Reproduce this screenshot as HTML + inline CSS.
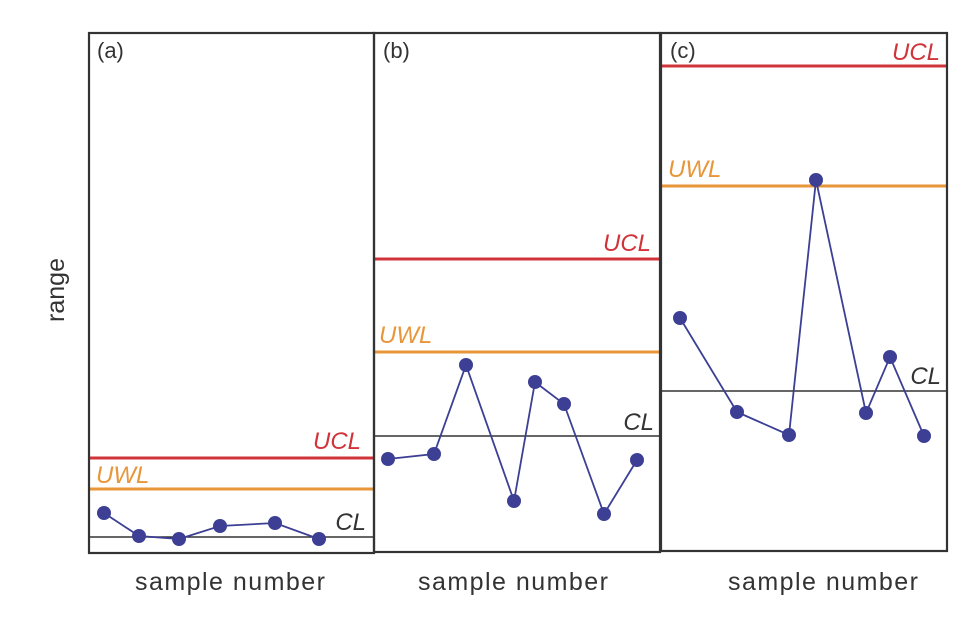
<!DOCTYPE html>
<html><head><meta charset="utf-8"><style>body{margin:0;background:#fff}svg{display:block}</style></head><body>
<svg width="974" height="619" viewBox="0 0 974 619" xmlns="http://www.w3.org/2000/svg" font-family="Liberation Sans, sans-serif">
<g fill="none" stroke-width="3">
<line x1="89" y1="458" x2="374" y2="458" stroke="#d0343a"/>
<line x1="89" y1="489" x2="374" y2="489" stroke="#e8963a"/>
<line x1="374" y1="259" x2="660" y2="259" stroke="#d0343a"/>
<line x1="374" y1="352" x2="660" y2="352" stroke="#e8963a"/>
<line x1="661" y1="66" x2="947" y2="66" stroke="#d0343a"/>
<line x1="661" y1="186" x2="947" y2="186" stroke="#e8963a"/>
</g>
<g stroke="#333" stroke-width="1.6" fill="none">
<line x1="89" y1="537" x2="374" y2="537"/>
<line x1="374" y1="436" x2="660" y2="436"/>
<line x1="661" y1="391" x2="947" y2="391"/>
</g>
<g stroke="#333" stroke-width="2.2" fill="none">
<rect x="89" y="33" width="285" height="520"/>
<rect x="374" y="33" width="286" height="519"/>
<rect x="661" y="33" width="286" height="518"/>
</g>
<g stroke="#3c3f94" stroke-width="1.8" fill="none">
<polyline points="104,513 139,536 179,539 220,526 275,523 319,539"/>
<polyline points="388,459 434,454 466,365 514,501 535,382 564,404 604,514 637,460"/>
<polyline points="680,318 737,412 789,435 816,180 866,413 890,357 924,436"/>
</g>
<g fill="#3c3f94">
<circle cx="104" cy="513" r="7"/><circle cx="139" cy="536" r="7"/><circle cx="179" cy="539" r="7"/><circle cx="220" cy="526" r="7"/><circle cx="275" cy="523" r="7"/><circle cx="319" cy="539" r="7"/>
<circle cx="388" cy="459" r="7"/><circle cx="434" cy="454" r="7"/><circle cx="466" cy="365" r="7"/><circle cx="514" cy="501" r="7"/><circle cx="535" cy="382" r="7"/><circle cx="564" cy="404" r="7"/><circle cx="604" cy="514" r="7"/><circle cx="637" cy="460" r="7"/>
<circle cx="680" cy="318" r="7"/><circle cx="737" cy="412" r="7"/><circle cx="789" cy="435" r="7"/><circle cx="816" cy="180" r="7"/><circle cx="866" cy="413" r="7"/><circle cx="890" cy="357" r="7"/><circle cx="924" cy="436" r="7"/>
</g>
<g font-size="24" font-style="italic">
<text x="361" y="449" text-anchor="end" fill="#d0343a">UCL</text>
<text x="96" y="483" fill="#e8963a">UWL</text>
<text x="366" y="530" text-anchor="end" fill="#333">CL</text>
<text x="651" y="251" text-anchor="end" fill="#d0343a">UCL</text>
<text x="379" y="343" fill="#e8963a">UWL</text>
<text x="654" y="430" text-anchor="end" fill="#333">CL</text>
<text x="940" y="60" text-anchor="end" fill="#d0343a">UCL</text>
<text x="668" y="177" fill="#e8963a">UWL</text>
<text x="941" y="384" text-anchor="end" fill="#333">CL</text>
</g>
<g font-size="22" fill="#333">
<text x="97" y="58">(a)</text>
<text x="383" y="58">(b)</text>
<text x="670" y="58">(c)</text>
</g>
<g font-size="25" fill="#333">
<text x="135" y="590" textLength="190" lengthAdjust="spacing">sample number</text>
<text x="418" y="590" textLength="190" lengthAdjust="spacing">sample number</text>
<text x="728" y="590" textLength="190" lengthAdjust="spacing">sample number</text>
<text transform="translate(64,290) rotate(-90)" text-anchor="middle">range</text>
</g>
</svg>
</body></html>
